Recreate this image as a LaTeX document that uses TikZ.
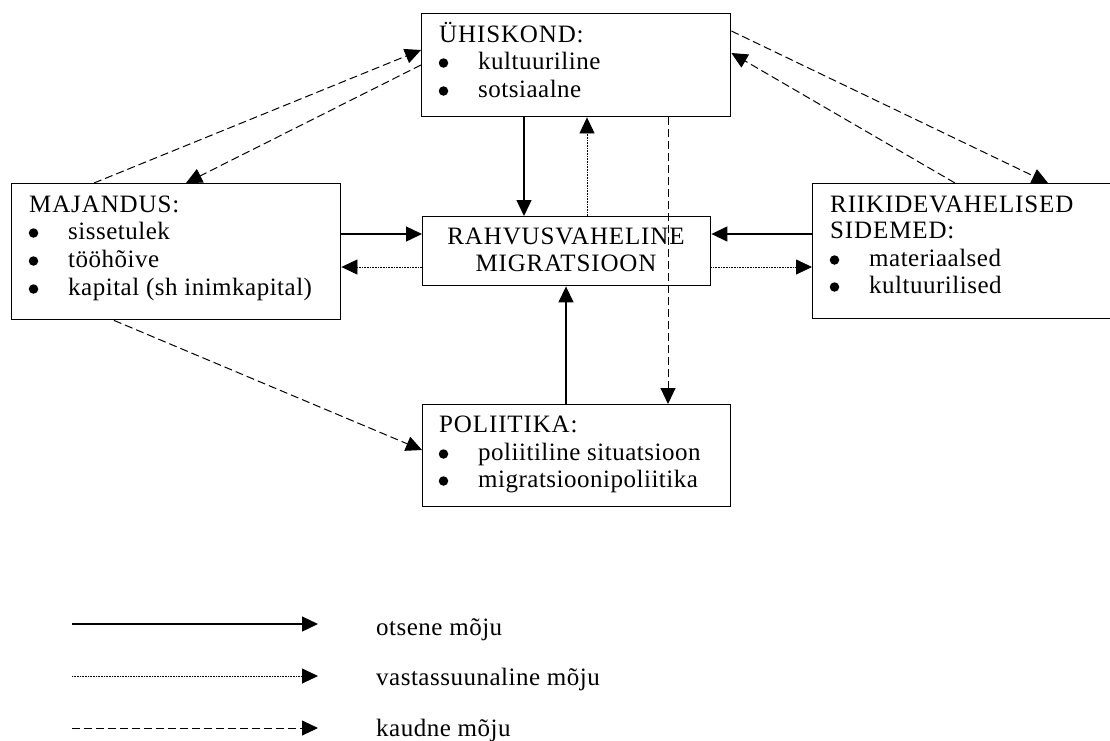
\documentclass[tikz,border=0pt]{standalone}
\usepackage{fontspec}
\setmainfont{Liberation Serif}[LetterSpace=2]
\newfontfamily\capsfont{Liberation Serif}[LetterSpace=3.5]
\usetikzlibrary{arrows.meta}
\begin{document}
\begin{tikzpicture}[x=1pt,y=-1pt,
  box/.style={draw, line width=1.4pt, inner sep=0pt, anchor=north west},
  txt/.style={inner sep=0pt, anchor=base west, font=\fontsize{25}{28}\selectfont},
  bull/.style={circle, fill, inner sep=0pt, minimum size=9.5pt},
  ttl/.style={inner sep=0pt, anchor=base west, font=\fontsize{25}{28}\selectfont\capsfont},
  ctxt/.style={inner sep=0pt, anchor=base, font=\fontsize{25}{28}\selectfont\capsfont},
  tip/.style={-{Triangle[length=16pt,width=15pt]}},
  solidarr/.style={tip, line width=1.4pt},
  dotarr/.style={tip, line width=0.8pt, dash pattern=on 0.8pt off 0.8pt},
  dasharr/.style={tip, line width=1pt, dash pattern=on 8pt off 4pt}]
\useasboundingbox (0,0) rectangle (1110,740);
\clip (0,0) rectangle (1110,740);
\fill[white] (0,0) rectangle (1110,740);

% boxes
\node[box, minimum width=309pt, minimum height=103pt] (uh) at (421,13) {};
\node[box, minimum width=329pt, minimum height=136pt] (maj) at (11,183) {};
\node[box, minimum width=288pt, minimum height=69pt] (rahv) at (422,216) {};
\node[box, minimum width=320pt, minimum height=135pt] (riik) at (812,183) {};
\node[box, minimum width=308pt, minimum height=102pt] (pol) at (422,404) {};

% texts
\node[ttl] (uhT) at (439,42) {ÜHISKOND:};
\node[bull] (uh1b) at (443.5,63) {};
\node[txt] (uh1) at (478,69) {kultuuriline};
\node[bull] (uh2b) at (443.5,91) {};
\node[txt] (uh2) at (478,97) {sotsiaalne};

\node[ttl] (majT) at (29,212) {MAJANDUS:};
\node[bull] (maj1b) at (33.5,233) {};
\node[txt] (maj1) at (68,239) {sissetulek};
\node[bull] (maj2b) at (33.5,261) {};
\node[txt] (maj2) at (68,267) {tööhõive};
\node[bull] (maj3b) at (33.5,289) {};
\node[txt] (maj3) at (68,295) {kapital (sh inimkapital)};

\node[ttl] (riikT1) at (830,212) {RIIKIDEVAHELISED};
\node[ttl] (riikT2) at (830,238) {SIDEMED:};
\node[bull] (riik1b) at (834.5,260) {};
\node[txt] (riik1) at (869,266) {materiaalsed};
\node[bull] (riik2b) at (834.5,287) {};
\node[txt] (riik2) at (869,293) {kultuurilised};

\node[ctxt] (rahvT1) at (566,244) {RAHVUSVAHELINE};
\node[ctxt] (rahvT2) at (566,271) {MIGRATSIOON};

\node[ttl] (polT) at (439,432) {POLIITIKA:};
\node[bull] (pol1b) at (443.5,454) {};
\node[txt] (pol1) at (478,460) {poliitiline situatsioon};
\node[bull] (pol2b) at (443.5,481) {};
\node[txt] (pol2) at (478,487) {migratsioonipoliitika};

% connectors
\draw[dasharr] ([xshift=83pt]maj.north west) -- ([yshift=-37pt]uh.north west);
\draw[dasharr] ([yshift=-52pt]uh.north west) -- ([xshift=175pt]maj.north west);
\draw[dasharr] ([yshift=-18pt]uh.north east) -- ([xshift=236pt]riik.north west);
\draw[dasharr] ([xshift=143pt]riik.north west) -- ([yshift=-40pt]uh.north east);
\draw[solidarr] ([xshift=103pt]uh.south west) -- ([xshift=102pt]rahv.north west);
\draw[dotarr] ([xshift=165pt]rahv.north west) -- ([xshift=166pt]uh.south west);
\draw[dasharr] ([xshift=247pt]uh.south west) -- ([xshift=246pt]pol.north west);
\draw[solidarr] ([yshift=-51pt]maj.north east) -- ([yshift=-18pt]rahv.north west);
\draw[dotarr] ([yshift=-51pt]rahv.north west) -- ([yshift=-84pt]maj.north east);
\draw[solidarr] ([yshift=-51pt]riik.north west) -- ([yshift=-18pt]rahv.north east);
\draw[dotarr] ([yshift=-51pt]rahv.north east) -- ([yshift=-84pt]riik.north west);
\draw[solidarr] ([xshift=144pt]pol.north west) -- ([xshift=144pt]rahv.south west);
\draw[dasharr] ([xshift=103pt]maj.south west) -- ([yshift=-46pt]pol.north west);

% legend
\coordinate (l1s) at (72,624); \coordinate (l1e) at (318,624);
\coordinate (l2s) at (72,676); \coordinate (l2e) at (318,676);
\coordinate (l3s) at (72,728); \coordinate (l3e) at (318,728);
\draw[solidarr] (l1s) -- (l1e);
\draw[dotarr] (l2s) -- (l2e);
\draw[dasharr] (l3s) -- (l3e);
\node[txt] (leg1) at (376,635) {otsene mõju};
\node[txt] (leg2) at (376,685) {vastassuunaline mõju};
\node[txt] (leg3) at (376,736) {kaudne mõju};
\end{tikzpicture}
\end{document}
